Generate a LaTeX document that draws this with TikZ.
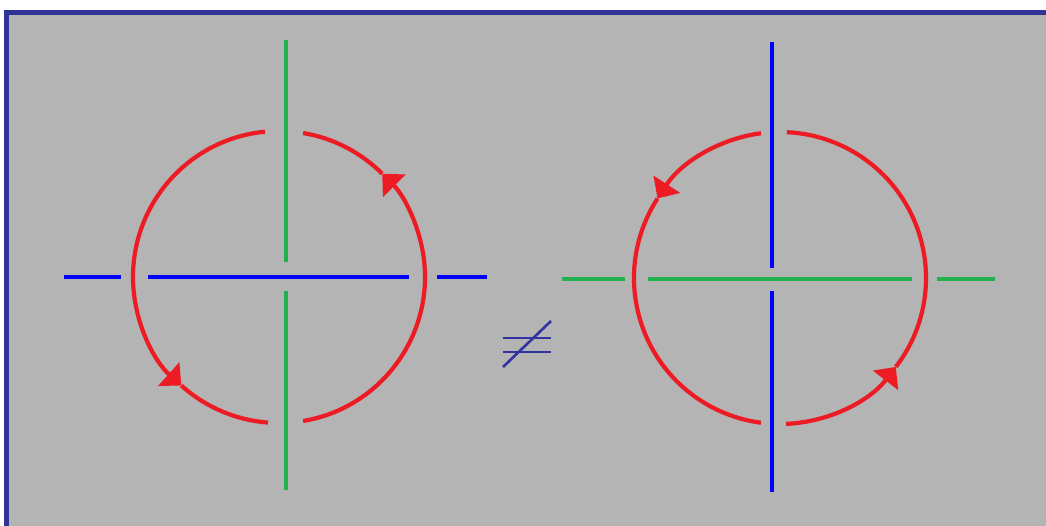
\documentclass[tikz,border=0pt]{standalone}
\usetikzlibrary{arrows.meta,calc}
\definecolor{bggray}{RGB}{180,180,180}
\definecolor{frameblue}{RGB}{48,52,150}
\definecolor{cred}{RGB}{237,28,36}
\definecolor{cgreen}{RGB}{34,177,76}
\definecolor{cblue}{RGB}{0,0,255}
\definecolor{neqblue}{RGB}{50,50,160}
\tikzset{
  redarc/.style={draw=cred,line width=4.2pt},
  redarrow/.style={redarc,-{Triangle[length=17pt,width=31pt]}},
  greenline/.style={draw=cgreen,line width=4.2pt},
  blueline/.style={draw=cblue,line width=4.2pt},
  neqline/.style={draw=neqblue,line width=2.6pt}
}
\begin{document}
\begin{tikzpicture}[x=1pt,y=1pt]
\useasboundingbox (0,0) rectangle (1046,525);
\clip (0,0) rectangle (1046,525);
\fill[white] (0,0) rectangle (1046,525);
\filldraw[fill=bggray,draw=frameblue,line width=5pt] (6.5,512.5) rectangle (1060,-20);
% ---------- left figure ----------
\coordinate (L) at (279,248);
\draw[blueline] (64,248) -- (121,248);
\draw[blueline] (148,248) -- (409,248);
\draw[blueline] (437,248) -- (487,248);
\draw[greenline] (286,485) -- (286,263);
\draw[greenline] (286,234) -- (286,35);
\draw[redarrow] ($(L)+(95.5:146)$) arc[start angle=95.5,end angle=228,radius=146];
\draw[redarc] ($(L)+(228:146)$) arc[start angle=228,end angle=265.7,radius=146];
\draw[redarrow] ($(L)+(279.5:146)$) arc[start angle=279.5,end angle=405,radius=146];
\draw[redarc] ($(L)+(45:146)$) arc[start angle=45,end angle=80.5,radius=146];
% ---------- not equal ----------
\draw[neqline] (503,187) -- (551,187);
\draw[neqline] (503,173) -- (551,173);
\draw[neqline] (503,158) -- (551,204);
% ---------- right figure ----------
\coordinate (R) at (780,247);
\draw[greenline] (562,246) -- (625,246);
\draw[greenline] (648,246) -- (912,246);
\draw[greenline] (937,246) -- (995,246);
\draw[blueline] (772,483) -- (772,257);
\draw[blueline] (772,234) -- (772,33);
\draw[redarrow] ($(R)+(97.5:146)$) arc[start angle=97.5,end angle=147,radius=146];
\draw[redarc] ($(R)+(147:146)$) arc[start angle=147,end angle=262.5,radius=146];
\draw[redarrow] ($(R)+(272.4:146)$) arc[start angle=272.4,end angle=322.5,radius=146];
\draw[redarc] ($(R)+(322.5:146)$) arc[start angle=322.5,end angle=447.3,radius=146];
\end{tikzpicture}
\end{document}
